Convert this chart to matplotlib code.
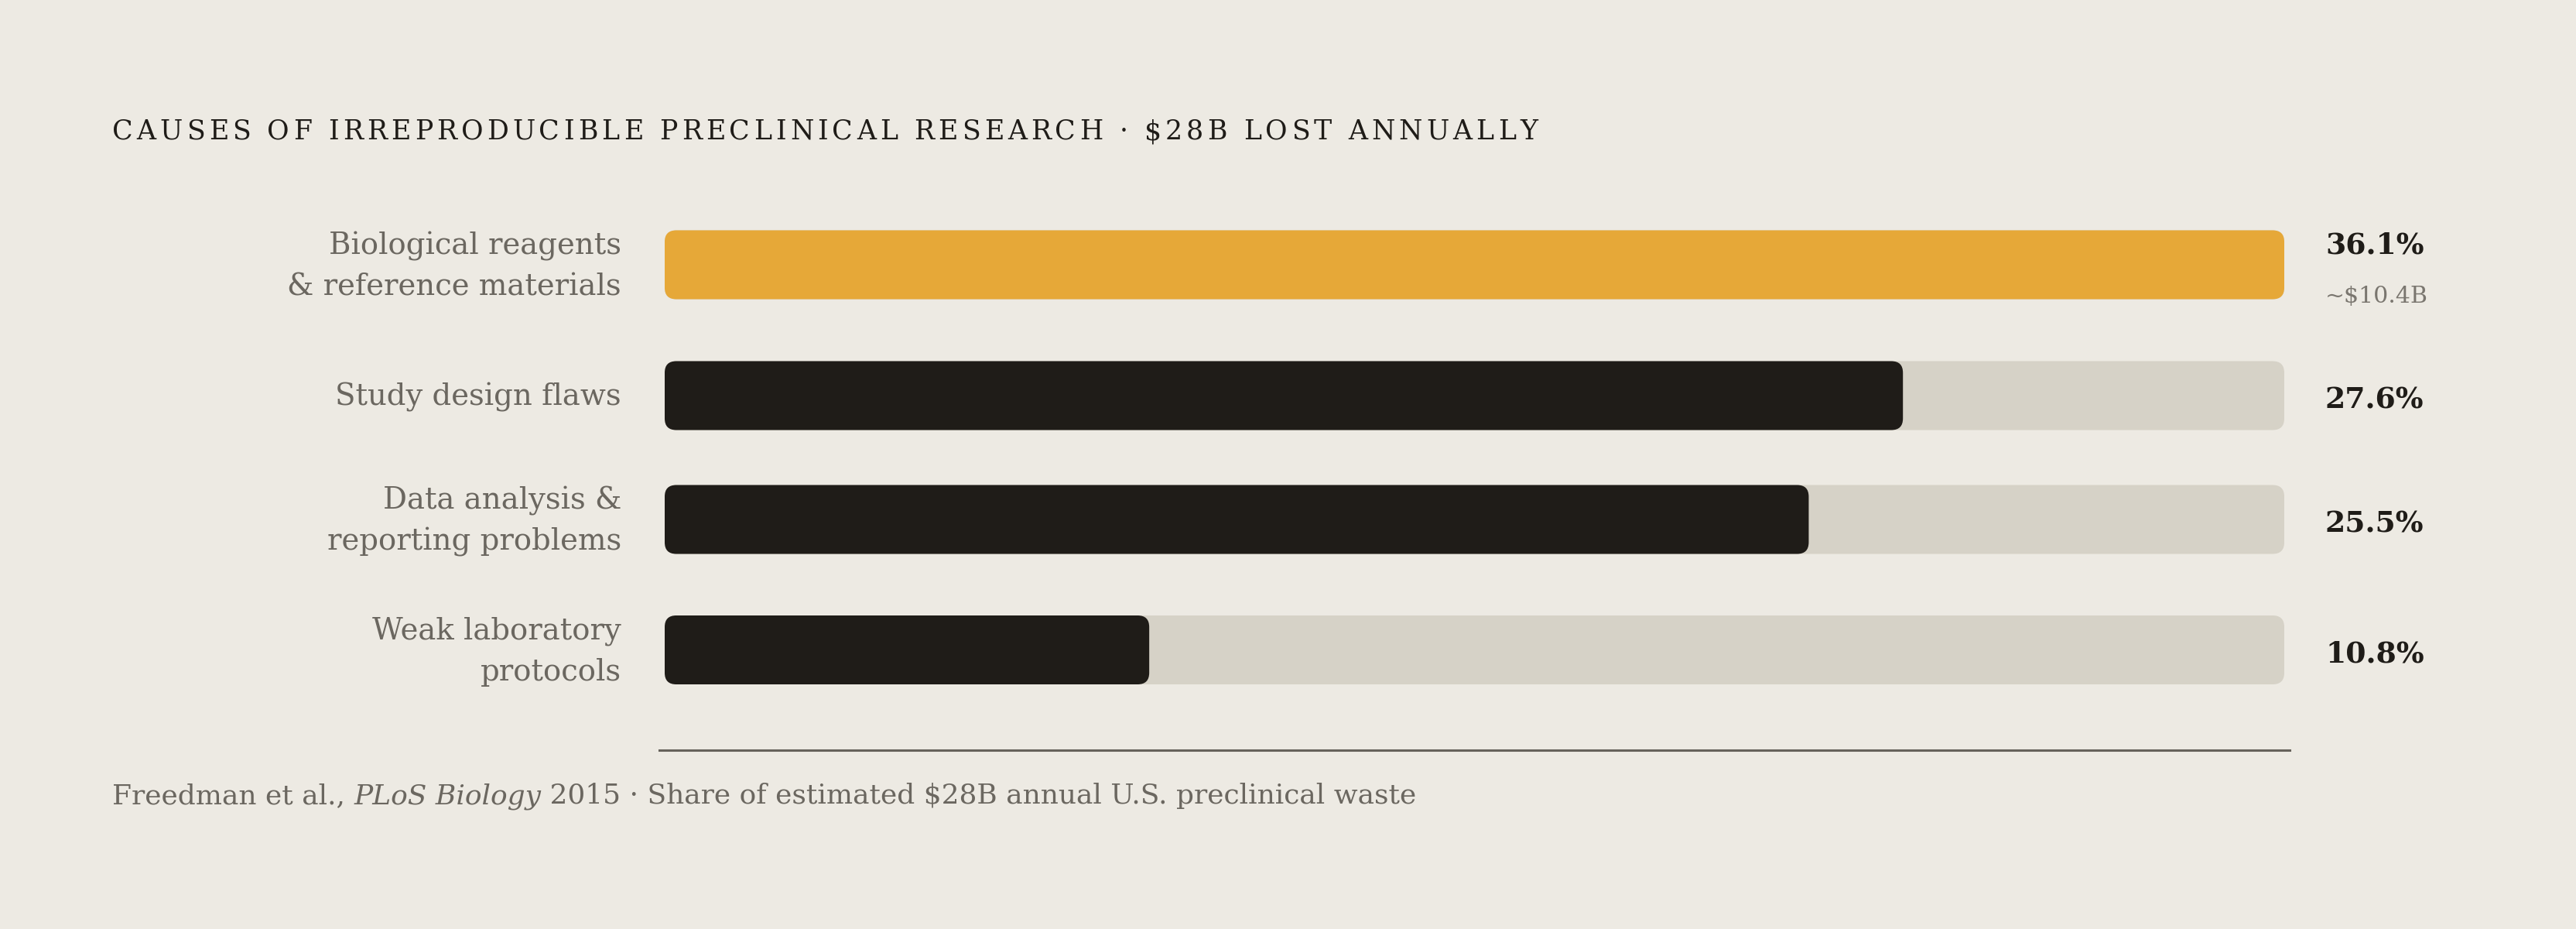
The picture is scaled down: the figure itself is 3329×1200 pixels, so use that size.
import matplotlib
matplotlib.use("Agg")
import matplotlib.pyplot as plt
from matplotlib.patches import FancyBboxPatch
from matplotlib.lines import Line2D

# ---------------- data ----------------
categories = [
    "Biological reagents\n& reference materials",
    "Study design flaws",
    "Data analysis &\nreporting problems",
    "Weak laboratory\nprotocols",
]
shares = [36.1, 27.6, 25.5, 10.8]
sub_labels = ["~$10.4B", "", "", ""]
highlight = [True, False, False, False]
title = "CAUSES OF IRREPRODUCIBLE PRECLINICAL RESEARCH \u00b7 $28B LOST ANNUALLY"
footer_runs = [
    ("Freedman et al., ", "normal"),
    ("PLoS Biology", "italic"),
    (" 2015 \u00b7 Share of estimated $28B annual U.S. preclinical waste", "normal"),
]

# ---------------- style ----------------
W, H, DPI = 3330, 1200, 200
BG = "#EDEAE3"
TRACK = "#D6D2C7"
DARK = "#1F1C18"
GOLD = "#E6A838"
GRAY = "#6B6760"
SUBGRAY = "#7A766F"
FONT = ["DejaVu Serif"]

plt.rcParams["font.family"] = FONT

fig = plt.figure(figsize=(W / DPI, H / DPI), dpi=DPI, facecolor=BG)
renderer = fig.canvas.get_renderer()

# layout (pixels, top-down)
track_x0, track_x1 = 859, 2952
bar_h = 89
radius = 15
line_h = 53
gap = 62.5
block_with_sub = 124
top0 = 280
label_right = 803
value_x = 3005
left_x = 145


def put(x, y, s, **kw):
    return fig.text(x / W, 1 - y / H, s, **kw)


def width_of(s, **kw):
    t = fig.text(0, 0, s, **kw)
    w = t.get_window_extent(renderer).width
    t.remove()
    return w


# row centres from content heights
centers = []
y = top0
for cat, sub in zip(categories, sub_labels):
    n = len(cat.split("\n"))
    h = max(bar_h, n * line_h, block_with_sub if sub else bar_h)
    centers.append(y + h / 2)
    y += h + gap

# bar axes: x in data units (share), y in pixels
ax = fig.add_axes([track_x0 / W, 0, (track_x1 - track_x0) / W, 1])
ax.set_xlim(0, max(shares))
ax.set_ylim(H, 0)
ax.axis("off")
ax.patch.set_alpha(0)
kx = max(shares) / (track_x1 - track_x0)

for c, v, hl in zip(centers, shares, highlight):
    ax.add_patch(FancyBboxPatch((0, c - bar_h / 2), max(shares), bar_h,
                                boxstyle=f"round,pad=0,rounding_size={radius * kx}",
                                mutation_aspect=1 / kx, fc=TRACK, ec="none"))
    ax.add_patch(FancyBboxPatch((0, c - bar_h / 2), v, bar_h,
                                boxstyle=f"round,pad=0,rounding_size={radius * kx}",
                                mutation_aspect=1 / kx, fc=GOLD if hl else DARK, ec="none"))

# category labels
lab_size = 13.9
for cat, c in zip(categories, centers):
    lines = cat.split("\n")
    n = len(lines)
    for i, ln in enumerate(lines):
        yb = c + 13 + (i - (n - 1) / 2) * line_h
        put(label_right, yb, ln, ha="right", va="baseline", fontsize=lab_size, color=GRAY)

# values
val_size = 13.6
for v, sub, c in zip(shares, sub_labels, centers):
    if sub:
        put(value_x, c - 15, f"{v:.1f}%", ha="left", va="baseline", fontsize=val_size,
            fontweight="bold", color=DARK)
        put(value_x, c + 49, sub, ha="left", va="baseline", fontsize=10.8, color=SUBGRAY)
    else:
        put(value_x, c + 16, f"{v:.1f}%", ha="left", va="baseline", fontsize=val_size,
            fontweight="bold", color=DARK)

# title with letter spacing
t_size = 12.5
t_target = 1842
base = width_of("||", fontsize=t_size)
adv = [width_of("|" + ch + "|", fontsize=t_size) - base for ch in title]
track_sp = (t_target - sum(adv)) / (len(title) - 1)
x = left_x
for ch, a in zip(title, adv):
    if ch != " ":
        put(x, 180, ch, ha="left", va="baseline", fontsize=t_size, color=DARK)
    x += a + track_sp

# baseline rule
fig.add_artist(Line2D([852 / W, 2959 / W], [1 - 969 / H, 1 - 969 / H],
                      transform=fig.transFigure, color="#66625B", lw=1.1))

# footer
f_target = 1690
f_size0 = 12
nat = sum(width_of("|" + s + "|", fontsize=f_size0, style=st) - width_of("||", fontsize=f_size0)
          for s, st in footer_runs)
f_size = f_size0 * f_target / nat
x = left_x
for s, st in footer_runs:
    put(x, 1038, s, ha="left", va="baseline", fontsize=f_size, style=st, color=GRAY)
    x += width_of("|" + s + "|", fontsize=f_size, style=st) - width_of("||", fontsize=f_size)

fig.savefig("out.png", dpi=DPI, facecolor=BG)
